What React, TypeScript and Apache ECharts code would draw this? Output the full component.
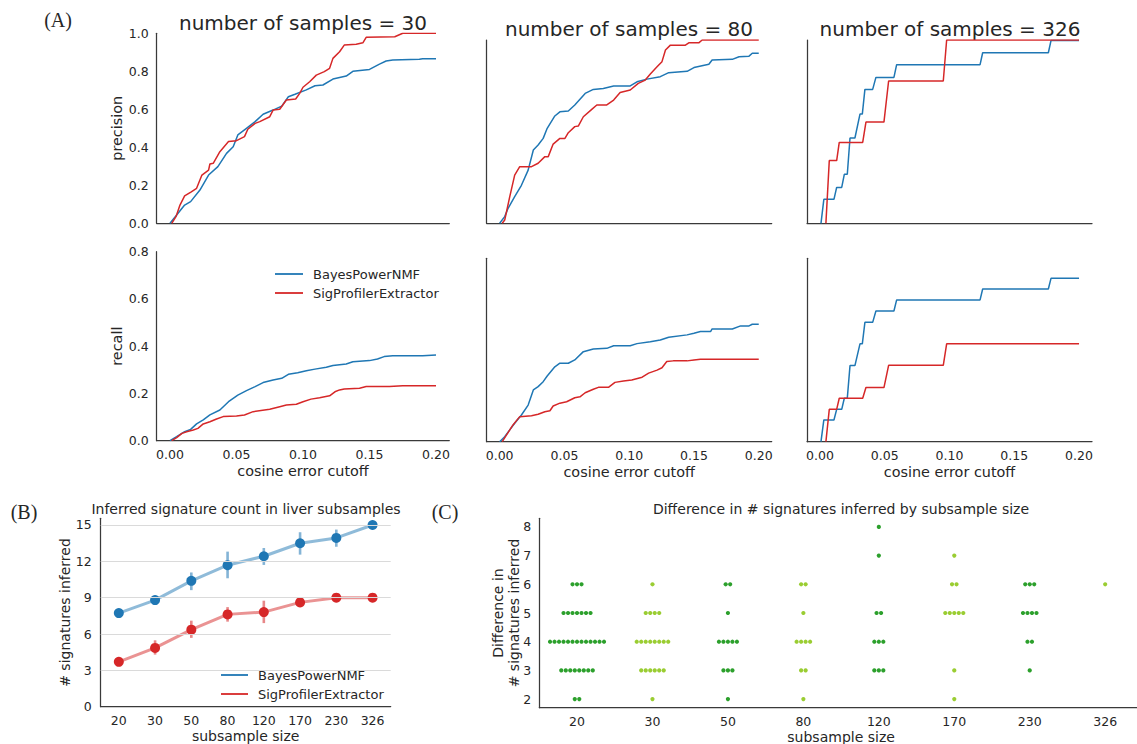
import React, { useEffect, useRef } from 'react';
import * as echarts from 'echarts';

const BLUE = '#1f77b4';
const RED = '#d62728';
const TXT = '#262626';
const AX = '#3a3a3a';
const FONT = 'DejaVu Sans';
const NAME_B = 'BayesPowerNMF';
const NAME_S = 'SigProfilerExtractor';

// ---------- Panel A : precision / recall curves ----------
const cutoffTicks = [0, 0.05, 0.1, 0.15, 0.2];
const sampleTitles = ['number of samples = 30', 'number of samples = 80', 'number of samples = 326'];

const p30Blue = [[0,0],[0.005,0.044],[0.011,0.096],[0.0155,0.114],[0.0225,0.175],[0.029,0.254],[0.036,0.298],[0.0425,0.368],[0.0475,0.403],[0.051,0.465],[0.0575,0.5],[0.064,0.535],[0.07,0.574],[0.0775,0.596],[0.084,0.617],[0.089,0.666],[0.094,0.679],[0.1025,0.702],[0.109,0.724],[0.115,0.728],[0.1225,0.759],[0.1325,0.775],[0.1375,0.8],[0.15,0.81],[0.1575,0.838],[0.1625,0.854],[0.1675,0.86],[0.1875,0.863],[0.19,0.866],[0.2,0.866]];
const p30Red = [[0.0013,0],[0.0045,0.035],[0.0075,0.096],[0.011,0.144],[0.016,0.166],[0.02,0.184],[0.024,0.254],[0.029,0.28],[0.03,0.312],[0.0325,0.316],[0.0375,0.377],[0.044,0.43],[0.05,0.435],[0.056,0.456],[0.0585,0.495],[0.064,0.526],[0.0675,0.535],[0.075,0.561],[0.0775,0.596],[0.0825,0.6],[0.0875,0.649],[0.0945,0.654],[0.0975,0.684],[0.1,0.716],[0.105,0.745],[0.11,0.78],[0.116,0.798],[0.12,0.816],[0.1225,0.868],[0.1275,0.903],[0.131,0.938],[0.14,0.942],[0.145,0.95],[0.1475,0.979],[0.169,0.982],[0.175,1.0],[0.2,1.0]];
const p80Blue = [[0,0],[0.0039,0.035],[0.0065,0.079],[0.0116,0.14],[0.0168,0.2],[0.022,0.28],[0.026,0.386],[0.0297,0.412],[0.0336,0.447],[0.0367,0.5],[0.0426,0.565],[0.0465,0.587],[0.053,0.591],[0.058,0.623],[0.066,0.684],[0.0723,0.705],[0.08,0.71],[0.088,0.723],[0.1008,0.723],[0.106,0.745],[0.1137,0.759],[0.124,0.772],[0.1305,0.793],[0.1447,0.8],[0.15,0.82],[0.1615,0.837],[0.164,0.86],[0.1796,0.863],[0.1848,0.877],[0.1925,0.88],[0.195,0.895],[0.2,0.895]];
const p80Red = [[0.002,0],[0.0039,0.017],[0.0078,0.14],[0.0116,0.254],[0.0155,0.298],[0.0246,0.298],[0.0297,0.316],[0.0349,0.351],[0.0375,0.351],[0.0413,0.417],[0.0465,0.447],[0.0504,0.447],[0.053,0.477],[0.058,0.509],[0.0607,0.512],[0.0646,0.561],[0.0711,0.6],[0.075,0.623],[0.0827,0.623],[0.088,0.649],[0.093,0.689],[0.1008,0.702],[0.107,0.737],[0.1124,0.754],[0.1163,0.786],[0.1215,0.824],[0.1253,0.851],[0.128,0.912],[0.1318,0.938],[0.1434,0.938],[0.146,0.95],[0.1537,0.95],[0.1563,0.965],[0.2,0.965]];
const p326Blue = [[0.0008,0],[0.003,0.126],[0.0108,0.126],[0.0129,0.189],[0.0168,0.189],[0.0188,0.258],[0.0211,0.258],[0.0232,0.449],[0.027,0.449],[0.0309,0.575],[0.0327,0.575],[0.0347,0.705],[0.0407,0.705],[0.0432,0.768],[0.0571,0.768],[0.0592,0.835],[0.1236,0.835],[0.1256,0.898],[0.1763,0.898],[0.1784,0.963],[0.2,0.963]];
const p326Red = [[0.0046,0],[0.0072,0.33],[0.0129,0.33],[0.0149,0.426],[0.033,0.426],[0.0355,0.533],[0.0494,0.533],[0.053,0.749],[0.0952,0.749],[0.0978,0.965],[0.2,0.965]];

const r30Blue = [[0,0],[0.005,0.017],[0.011,0.038],[0.0155,0.048],[0.02,0.071],[0.025,0.088],[0.03,0.109],[0.0375,0.13],[0.044,0.165],[0.051,0.193],[0.0575,0.212],[0.064,0.229],[0.07,0.246],[0.0775,0.257],[0.084,0.264],[0.089,0.281],[0.096,0.288],[0.1025,0.296],[0.109,0.303],[0.1175,0.311],[0.1225,0.318],[0.1325,0.325],[0.1375,0.334],[0.15,0.339],[0.156,0.346],[0.161,0.356],[0.1675,0.36],[0.19,0.36],[0.2,0.363]];
const r30Red = [[0.0013,0],[0.005,0.013],[0.009,0.031],[0.0125,0.038],[0.0175,0.045],[0.021,0.052],[0.025,0.071],[0.03,0.08],[0.035,0.092],[0.04,0.102],[0.05,0.105],[0.056,0.109],[0.0625,0.123],[0.075,0.133],[0.0825,0.144],[0.0875,0.151],[0.095,0.154],[0.1,0.165],[0.106,0.176],[0.1125,0.182],[0.12,0.19],[0.124,0.207],[0.1275,0.215],[0.131,0.219],[0.1425,0.222],[0.1475,0.229],[0.165,0.229],[0.175,0.233],[0.2,0.233]];
const r80Blue = [[0,0],[0.0039,0.021],[0.0078,0.05],[0.0116,0.078],[0.0168,0.113],[0.022,0.155],[0.026,0.219],[0.0297,0.233],[0.0336,0.254],[0.0367,0.278],[0.0426,0.317],[0.0465,0.332],[0.053,0.332],[0.058,0.346],[0.0646,0.381],[0.0723,0.392],[0.0827,0.395],[0.088,0.406],[0.1008,0.406],[0.106,0.415],[0.1163,0.423],[0.124,0.43],[0.1305,0.442],[0.1447,0.452],[0.15,0.459],[0.155,0.466],[0.1628,0.466],[0.164,0.477],[0.1796,0.477],[0.186,0.49],[0.1925,0.49],[0.195,0.497],[0.2,0.497]];
const r80Red = [[0.002,0],[0.0052,0.028],[0.0103,0.071],[0.0155,0.106],[0.0246,0.11],[0.0297,0.116],[0.0349,0.127],[0.0388,0.131],[0.0413,0.151],[0.0465,0.163],[0.0517,0.169],[0.058,0.186],[0.062,0.19],[0.066,0.207],[0.0723,0.222],[0.0762,0.23],[0.084,0.23],[0.089,0.251],[0.0956,0.257],[0.102,0.261],[0.11,0.273],[0.115,0.29],[0.1215,0.303],[0.1253,0.313],[0.129,0.339],[0.134,0.342],[0.1447,0.342],[0.15,0.346],[0.155,0.349],[0.2,0.349]];
const r326Blue = [[0.0008,0],[0.003,0.092],[0.0108,0.092],[0.0129,0.137],[0.0168,0.137],[0.0188,0.184],[0.0211,0.184],[0.0232,0.322],[0.027,0.322],[0.0309,0.414],[0.0327,0.414],[0.0347,0.505],[0.0407,0.505],[0.0432,0.553],[0.0571,0.553],[0.0592,0.6],[0.1236,0.6],[0.1256,0.646],[0.1763,0.646],[0.1784,0.692],[0.2,0.692]];
const r326Red = [[0.0046,0],[0.0072,0.137],[0.0129,0.137],[0.0149,0.184],[0.033,0.184],[0.0355,0.229],[0.0494,0.229],[0.053,0.323],[0.0952,0.323],[0.0978,0.414],[0.2,0.414]];

// ---------- Panel B : inferred signature count ----------
const subsampleSizes = ['20', '30', '50', '80', '120', '170', '230', '326'];
const bayesMean = [7.73, 8.8, 10.39, 11.68, 12.42, 13.49, 13.93, 15.0];
const bayesLo = [7.6, 8.4, 9.62, 10.6, 11.7, 12.55, 13.2, 15.0];
const bayesHi = [7.85, 9.12, 11.08, 12.8, 13.1, 14.4, 14.62, 15.0];
const sigMean = [3.7, 4.85, 6.36, 7.62, 7.81, 8.61, 9.0, 9.0];
const sigLo = [3.35, 4.3, 5.68, 7.02, 6.9, 8.5, 9.0, 9.0];
const sigHi = [4.1, 5.48, 7.1, 8.22, 8.75, 8.72, 9.0, 9.0];
const countTicks = [0, 3, 6, 9, 12, 15];

// ---------- Panel C : difference per subsample ----------
const diff20 = [2,2,3,3,3,3,3,3,3,3,4,4,4,4,4,4,4,4,4,4,4,4,4,5,5,5,5,5,5,5,6,6,6];
const diff30 = [2,3,3,3,3,3,3,4,4,4,4,4,4,4,4,5,5,5,5,6];
const diff50 = [2,3,3,3,4,4,4,4,4,5,6,6];
const diff80 = [2,3,3,4,4,4,4,5,6,6];
const diff120 = [3,3,3,4,4,4,5,5,7,8];
const diff170 = [2,3,5,5,5,5,5,6,6,7];
const diff230 = [3,4,4,5,5,5,5,6,6,6];
const diff326 = [6];
const diffTicks = [2, 3, 4, 5, 6, 7, 8];
const swarmPalette = ['#2ca02c', '#9acd32'];

function buildOption() {
  const grids = [
    { left: 156.7, top: 33.3, width: 292.6, height: 190 },
    { left: 486.7, top: 40, width: 285, height: 183.3 },
    { left: 807, top: 40, width: 285, height: 183.3 },
    { left: 156.7, top: 251.7, width: 292.6, height: 189 },
    { left: 486.7, top: 258.3, width: 285, height: 183.4 },
    { left: 807, top: 258.3, width: 285, height: 183.4 },
    { left: 100.7, top: 518.3, width: 290, height: 188.4 },
    { left: 539.3, top: 518.3, width: 603.6, height: 189.4 },
  ].map((g) => ({ ...g, containLabel: false, outerBoundsMode: 'none' }));

  const axisLine = { show: true, onZero: false, lineStyle: { color: AX, width: 1.25 } };
  const tickFont = { fontSize: 12.5, color: TXT, fontFamily: FONT };
  const nameFont = { fontSize: 14.4, color: TXT, fontFamily: FONT };

  const xAxis: any[] = [];
  const yAxis: any[] = [];
  for (let i = 0; i < 6; i++) {
    const bottomRow = i >= 3;
    xAxis.push({
      type: 'value', gridIndex: i, min: -0.01, max: 0.21,
      axisLine, axisTick: { show: false }, splitLine: { show: false },
      axisLabel: bottomRow
        ? { show: true, customValues: cutoffTicks, formatter: (v: number) => v.toFixed(2), margin: 7, ...tickFont }
        : { show: false },
      name: bottomRow ? 'cosine error cutoff' : '', nameLocation: 'middle', nameGap: 23, nameTextStyle: nameFont,
    });
    const col = i % 3;
    const yMax = col === 0 ? (bottomRow ? 0.8 : 1.0) : (bottomRow ? 0.776 : 0.965);
    yAxis.push({
      type: 'value', gridIndex: i, min: 0, max: yMax, interval: 0.2,
      axisLine, axisTick: { show: false }, splitLine: { show: false },
      axisLabel: col === 0 ? { show: true, formatter: (v: number) => v.toFixed(1), margin: 8, ...tickFont } : { show: false },
      name: col === 0 ? (bottomRow ? 'recall' : 'precision') : '', nameLocation: 'middle', nameGap: 33, nameTextStyle: nameFont,
    });
  }
  // B
  xAxis.push({
    type: 'category', gridIndex: 6, data: subsampleSizes, boundaryGap: true,
    axisLine, axisTick: { show: false }, splitLine: { show: false },
    axisLabel: { margin: 7, ...tickFont },
    name: 'subsample size', nameLocation: 'middle', nameGap: 22, nameTextStyle: { ...nameFont, fontSize: 14 },
  });
  yAxis.push({
    type: 'value', gridIndex: 6, min: 0, max: 15.55,
    axisLine, axisTick: { show: false }, splitLine: { show: false },
    axisLabel: { customValues: countTicks, margin: 9, ...tickFont },
    name: '# signatures inferred', nameLocation: 'middle', nameGap: 27, nameTextStyle: { ...nameFont, fontSize: 14 },
  });
  // C
  xAxis.push({
    type: 'category', gridIndex: 7, data: subsampleSizes, boundaryGap: true,
    axisLine, axisTick: { show: false }, splitLine: { show: false },
    axisLabel: { margin: 7, ...tickFont },
    name: 'subsample size', nameLocation: 'middle', nameGap: 22, nameTextStyle: { ...nameFont, fontSize: 14 },
  });
  yAxis.push({
    type: 'value', gridIndex: 7, min: 1.7, max: 8.3,
    axisLine, axisTick: { show: false }, splitLine: { show: false },
    axisLabel: { customValues: diffTicks, formatter: (v: number) => String(Math.round(v)), margin: 8, ...tickFont },
    name: 'Difference in\n# signatures inferred', nameLocation: 'middle', nameGap: 18, nameMoveOverlap: false,
    nameTextStyle: { ...nameFont, fontSize: 14, lineHeight: 15.5 },
  });

  const series: any[] = [];
  const curves = [
    [p30Blue, p30Red], [p80Blue, p80Red], [p326Blue, p326Red],
    [r30Blue, r30Red], [r80Blue, r80Red], [r326Blue, r326Red],
  ];
  curves.forEach(([b, r], i) => {
    series.push({ type: 'line', name: NAME_B, xAxisIndex: i, yAxisIndex: i, data: b, showSymbol: false, symbol: 'none',
      lineStyle: { color: BLUE, width: 1.5 }, itemStyle: { color: BLUE }, z: 3 });
    series.push({ type: 'line', name: NAME_S, xAxisIndex: i, yAxisIndex: i, data: r, showSymbol: false, symbol: 'none',
      lineStyle: { color: RED, width: 1.5 }, itemStyle: { color: RED }, z: 3 });
  });

  // B gridlines
  series.push({
    type: 'line', xAxisIndex: 6, yAxisIndex: 6, data: [], z: 0, silent: true,
    markLine: {
      silent: true, symbol: ['none', 'none'], label: { show: false }, animation: false,
      lineStyle: { color: '#dadada', width: 1, type: 'solid' },
      data: countTicks.filter((v) => v > 0).map((v) => ({ yAxis: v })),
    },
  });
  const errSeries = (lo: number[], hi: number[], color: string) => ({
    type: 'custom', xAxisIndex: 6, yAxisIndex: 6, z: 2, silent: true,
    data: lo.map((v, i) => [i, v, hi[i]]),
    encode: { x: 0, y: [1, 2] },
    renderItem: (params: any, api: any) => {
      const a = api.coord([api.value(0), api.value(1)]);
      const b = api.coord([api.value(0), api.value(2)]);
      return { type: 'line', shape: { x1: a[0], y1: a[1], x2: b[0], y2: b[1] },
        style: { stroke: color, lineWidth: 2.6, opacity: 0.55 } };
    },
  });
  series.push(errSeries(bayesLo, bayesHi, BLUE));
  series.push(errSeries(sigLo, sigHi, RED));
  series.push({ type: 'line', name: NAME_B, xAxisIndex: 6, yAxisIndex: 6, data: bayesMean, symbol: 'circle', symbolSize: 10,
    itemStyle: { color: BLUE }, lineStyle: { color: BLUE, width: 3, opacity: 0.5 }, z: 4 });
  series.push({ type: 'line', name: NAME_S, xAxisIndex: 6, yAxisIndex: 6, data: sigMean, symbol: 'circle', symbolSize: 10,
    itemStyle: { color: RED }, lineStyle: { color: RED, width: 3, opacity: 0.5 }, z: 4 });

  // C swarm
  const diffs = [diff20, diff30, diff50, diff80, diff120, diff170, diff230, diff326];
  const swarm: number[][] = [];
  diffs.forEach((vals, ci) => {
    const groups: Record<number, number> = {};
    vals.forEach((v) => { groups[v] = (groups[v] || 0) + 1; });
    const seen: Record<number, number> = {};
    vals.forEach((v) => {
      const slot = seen[v] || 0;
      seen[v] = slot + 1;
      swarm.push([ci, v, slot, groups[v]]);
    });
  });
  series.push({
    type: 'custom', xAxisIndex: 7, yAxisIndex: 7, data: swarm, encode: { x: 0, y: 1 }, silent: true,
    renderItem: (params: any, api: any) => {
      const c = api.coord([api.value(0), api.value(1)]);
      const off = (api.value(2) - (api.value(3) - 1) / 2) * 4.5;
      return { type: 'circle', shape: { cx: c[0] + off, cy: c[1], r: 2.1 },
        style: { fill: swarmPalette[api.value(0) % 2] } };
    },
  });

  const legendBase = {
    orient: 'vertical', icon: 'rect', itemHeight: 1.8, itemGap: 5, selectedMode: false,
    data: [NAME_B, NAME_S],
    textStyle: { fontSize: 13, color: TXT, fontFamily: FONT, lineHeight: 14, padding: [0, 0, 0, 5] },
  };
  const legend = [
    { ...legendBase, left: 270, top: 262, itemWidth: 28 },
    { ...legendBase, left: 216, top: 663, itemWidth: 27 },
  ];

  const txt = (text: string, x: number, y: number, size: number, family = FONT) => ({
    type: 'text', x, y, silent: true,
    style: { text, fill: TXT, font: `${size}px "${family}"`, textAlign: 'center', textVerticalAlign: 'middle' },
  });
  const graphic = [
    txt('(A)', 58, 20, 20, 'Liberation Serif'),
    txt('(B)', 24, 512, 20, 'Liberation Serif'),
    txt('(C)', 445, 512, 20, 'Liberation Serif'),
    txt(sampleTitles[0], 303, 22.5, 20),
    txt(sampleTitles[1], 629, 28.5, 20),
    txt(sampleTitles[2], 950, 29, 20),
    txt('Inferred signature count in liver subsamples', 246, 509, 14),
    txt('Difference in # signatures inferred by subsample size', 841, 509, 14),
  ];

  return {
    animation: false,
    backgroundColor: '#ffffff',
    textStyle: { fontFamily: FONT },
    grid: grids, xAxis, yAxis, series, legend, graphic,
  };
}

export default function App() {
  const ref = useRef<HTMLDivElement>(null);
  useEffect(() => {
    const chart = echarts.init(ref.current as HTMLDivElement, null, { renderer: 'svg' });
    chart.setOption(buildOption() as any);
    return () => chart.dispose();
  }, []);
  return (
    <div
      ref={ref}
      style={{ position: 'absolute', left: 0, top: 0, width: 1137, height: 744, background: '#fff' }}
    />
  );
}
